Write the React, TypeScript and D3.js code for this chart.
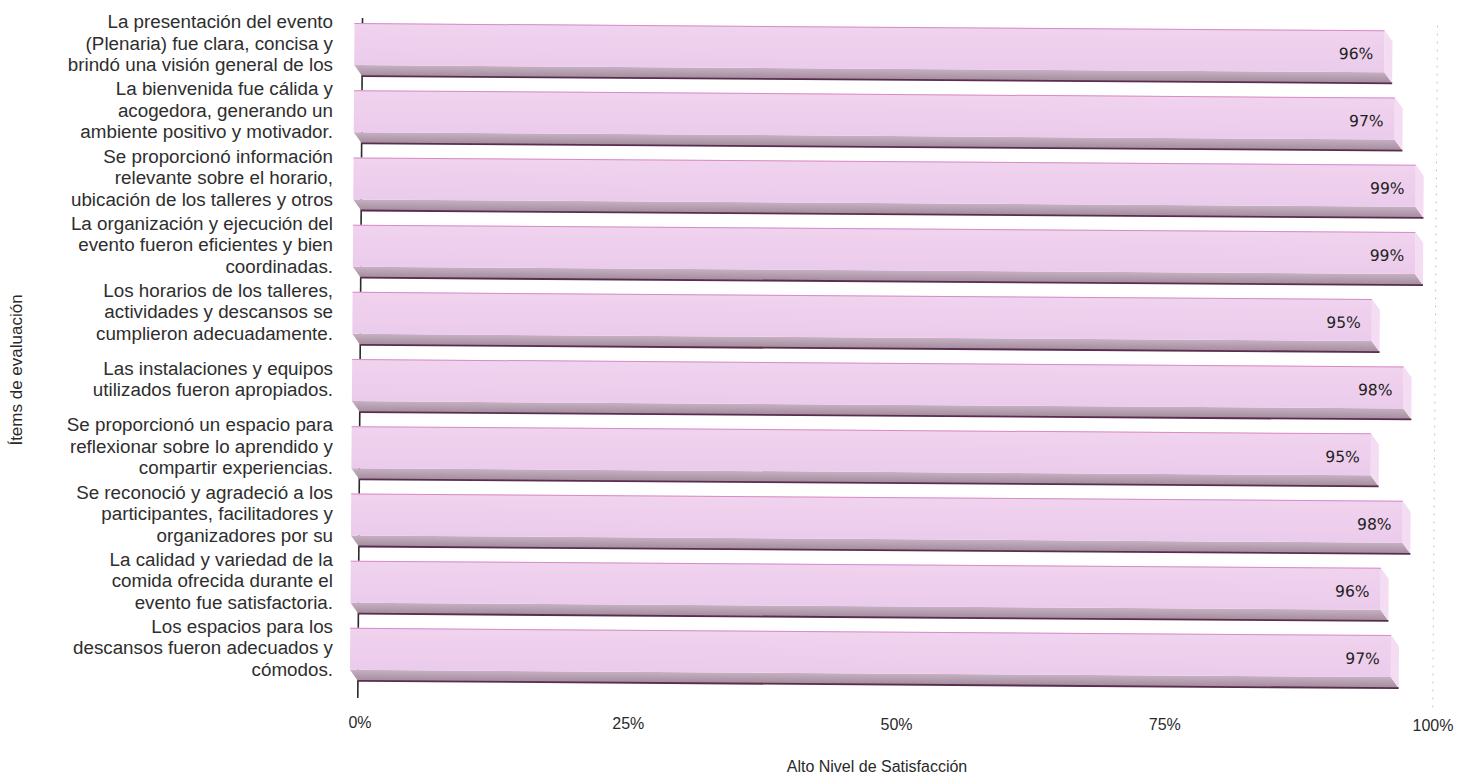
import React from "react";
import * as d3 from "d3";

const categories: string[][] = [
  ["La presentación del evento", "(Plenaria) fue clara, concisa y", "brindó una visión general de los"],
  ["La bienvenida fue cálida y", "acogedora, generando un", "ambiente positivo y motivador."],
  ["Se proporcionó información", "relevante sobre el horario,", "ubicación de los talleres y otros"],
  ["La organización y ejecución del", "evento fueron eficientes y bien", "coordinadas."],
  ["Los horarios de los talleres,", "actividades y descansos se", "cumplieron adecuadamente."],
  ["Las instalaciones y equipos", "utilizados fueron apropiados."],
  ["Se proporcionó un espacio para", "reflexionar sobre lo aprendido y", "compartir experiencias."],
  ["Se reconoció y agradeció a los", "participantes, facilitadores y", "organizadores por su"],
  ["La calidad y variedad de la", "comida ofrecida durante el", "evento fue satisfactoria."],
  ["Los espacios para los", "descansos fueron adecuados y", "cómodos."],
];
const values: number[] = [96, 97, 99, 99, 95, 98, 95, 98, 96, 97];
const xTicks: number[] = [0, 25, 50, 75, 100];
const xTitle = "Alto Nivel de Satisfacción";
const yTitle = "Ítems de evaluación";

const W = 1473;
const H = 778;
const DX = 8;
const DY = 11;

export default function App() {
  const keys = categories.map((_, i) => String(i));
  const x = d3.scaleLinear().domain([0, 100]).range([360, 1433]);
  const y = d3.scaleBand<string>().domain(keys).range([16, 688]).paddingInner(0.211).paddingOuter(0.1055);
  const bw = y.bandwidth();
  const faceH = bw - DY;
  const x0 = x(0);
  const lineH = 21.5;

  return (
    <svg width={W} height={H} style={{ position: "absolute", left: 0, top: 0, display: "block", background: "#fff" }}>
      <defs>
        <linearGradient id="bottomFace" x1="0" y1="0" x2="0" y2="1">
          <stop offset="0" stopColor="#c6b0c3" />
          <stop offset="1" stopColor="#a38c9b" />
        </linearGradient>
        <linearGradient id="frontFace" x1="0" y1="0" x2="0" y2="1">
          <stop offset="0" stopColor="#f0d3ef" />
          <stop offset="1" stopColor="#ebcbeb" />
        </linearGradient>
      </defs>
      <g transform="rotate(0.4, 360, 380)">
        <line x1={x(100) + 2} x2={x(100) + 2} y1={18} y2={700} stroke="#c8c8c8" strokeWidth={1} strokeDasharray="2 6" />
        <line x1={x0} x2={x0} y1={18} y2={698} stroke="#2a2a2a" strokeWidth={1.6} />
        {keys.map((k, i) => {
          const yb = y(k)!;
          const xv = x(values[i]);
          const front = `M${x0 - DX},${yb}H${xv - DX}V${yb + faceH}H${x0 - DX}Z`;
          const bottom = `M${x0 - DX},${yb + faceH}L${xv - DX},${yb + faceH}L${xv},${yb + bw}L${x0},${yb + bw}Z`;
          const right = `M${xv - DX},${yb}L${xv},${yb + DY}L${xv},${yb + bw}L${xv - DX},${yb + faceH}Z`;
          return (
            <g key={k}>
              <path d={bottom} fill="url(#bottomFace)" />
              <path d={right} fill="#f4ddf2" />
              <path d={front} fill="url(#frontFace)" />
              <line x1={x0 - DX} x2={xv - DX} y1={yb + 0.5} y2={yb + 0.5} stroke="#d98cc6" strokeWidth={1} />
              <line x1={x0} x2={xv} y1={yb + bw} y2={yb + bw} stroke="#5a2c4e" strokeWidth={1.8} />
              <text
                x={xv - DX - 11}
                y={yb + faceH / 2 + 3}
                textAnchor="end"
                dominantBaseline="central"
                fontFamily="DejaVu Sans, Verdana, sans-serif"
                fontSize={15.5}
                fill="#222"
              >
                {values[i]}%
              </text>
            </g>
          );
        })}
      </g>
      {keys.map((k, i) => {
        const yb = y(k)!;
        return (
          <text
            key={"l" + k}
            textAnchor="end"
            fontFamily="Liberation Sans, Arial, sans-serif"
            fontSize={18.8}
            fill="#2e2e2e"
          >
            {categories[i].map((ln, j) => (
              <tspan
                key={j}
                x={333}
                y={yb + faceH / 2 - 1 + (j - (categories[i].length - 1) / 2) * lineH}
                dominantBaseline="central"
              >
                {ln}
              </tspan>
            ))}
          </text>
        );
      })}
      {xTicks.map((t) => (
        <text
          key={t}
          x={x(t)}
          y={728 + (t / 100) * 3}
          textAnchor="middle"
          fontFamily="Liberation Sans, Arial, sans-serif"
          fontSize={16}
          fill="#2a2a2a"
        >
          {t}%
        </text>
      ))}
      <text
        x={877}
        y={772}
        textAnchor="middle"
        fontFamily="Liberation Sans, Arial, sans-serif"
        fontSize={16}
        fill="#2a2a2a"
      >
        {xTitle}
      </text>
      <text
        transform={`translate(22,370) rotate(-90)`}
        textAnchor="middle"
        fontFamily="Liberation Sans, Arial, sans-serif"
        fontSize={17}
        fill="#2a2a2a"
      >
        {yTitle}
      </text>
    </svg>
  );
}
